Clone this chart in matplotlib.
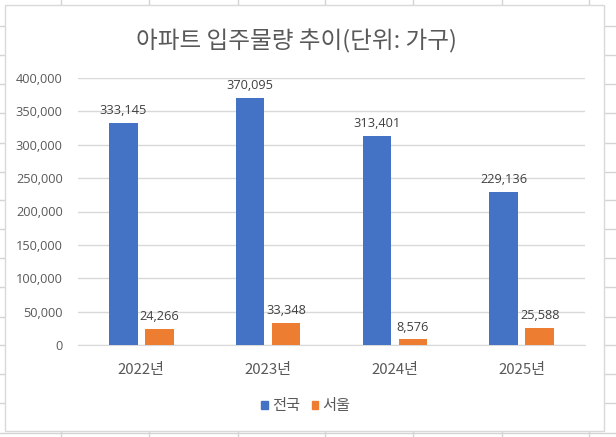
import matplotlib
matplotlib.use("Agg")
import matplotlib.pyplot as plt
from matplotlib.patches import Rectangle
from matplotlib.lines import Line2D
import numpy as np

plt.rcParams['font.family'] = ['Open Sans', 'Noto Sans CJK KR', 'DejaVu Sans']
KR = ['Noto Sans CJK KR', 'DejaVu Sans']

categories = ['2022년', '2023년', '2024년', '2025년']
series_names = ['전국', '서울']
nationwide = [333145, 370095, 313401, 229136]
seoul = [24266, 33348, 8576, 25588]
yticks = [0, 50000, 100000, 150000, 200000, 250000, 300000, 350000, 400000]
title = '아파트 입주물량 추이(단위: 가구)'

BLUE = '#4472C4'
ORANGE = '#ED7D31'
TEXT = '#595959'
GRID = '#D9D9D9'

W, H = 616, 437
fig = plt.figure(figsize=(W / 100, H / 100), dpi=100)
fig.patch.set_facecolor('white')

def fx(px):
    return px / W

def fy(py):
    return 1 - py / H

# spreadsheet grid behind the chart
sheet_col = '#D4D4D4'
for x in [61, 149, 238, 325, 413, 502, 589]:
    fig.add_artist(Line2D([fx(x), fx(x)], [0, 1], color=sheet_col, lw=1, zorder=0))
for y in [26, 55, 84, 113, 143, 172, 200, 229, 258, 287, 317, 345, 374, 403, 433]:
    fig.add_artist(Line2D([0, 1], [fy(y), fy(y)], color=sheet_col, lw=1, zorder=0))

# chart box
fig.add_artist(Rectangle((fx(5), fy(431)), fx(604) - fx(5), fy(5) - fy(431),
                         facecolor='white', edgecolor=GRID, lw=1, zorder=1))

ax = fig.add_axes([fx(78), fy(345), fx(585) - fx(78), fy(78) - fy(345)], zorder=2)
ax.set_facecolor('none')

x = np.arange(len(categories))
w = 0.224
off = 0.1424
b1 = ax.bar(x - off, nationwide, w, color=BLUE, zorder=3, label=series_names[0])
b2 = ax.bar(x + off, seoul, w, color=ORANGE, zorder=3, label=series_names[1])

ax.set_xlim(-0.5, len(categories) - 0.5)
ax.set_ylim(0, 400000)
ax.set_yticks(yticks)
ax.set_yticklabels([f'{v:,}' for v in yticks], color=TEXT, fontsize=9.2)
ax.set_xticks(x)
ax.set_xticklabels(categories, color=TEXT, fontsize=10.8, family=KR)
ax.tick_params(axis='y', length=0, pad=11)
ax.tick_params(axis='x', length=0, pad=13)
ax.grid(axis='y', color=GRID, lw=1, zorder=0)
for s in ['top', 'right', 'left']:
    ax.spines[s].set_visible(False)
ax.spines['bottom'].set_color(GRID)
ax.spines['bottom'].set_zorder(1)

for bars in (b1, b2):
    ax.bar_label(bars, labels=[f'{v:,.0f}' for v in bars.datavalues],
                 padding=4, color='#404040', fontsize=9.2)

fig.text(fx(296), fy(41.5), title, ha='center', va='center', fontsize=17,
         color=TEXT, zorder=3, family=KR)

handles = [Rectangle((0, 0), 1, 1, color=BLUE), Rectangle((0, 0), 1, 1, color=ORANGE)]
leg = fig.legend(handles, series_names, loc='center', bbox_to_anchor=(fx(306), fy(405.5)),
                 ncol=2, frameon=False, handlelength=0.42, handleheight=0.42,
                 handletextpad=0.3, columnspacing=0.75, labelcolor=TEXT,
                 prop={'family': KR, 'size': 11})
leg.set_zorder(3)

fig.savefig('out.png', dpi=100)
